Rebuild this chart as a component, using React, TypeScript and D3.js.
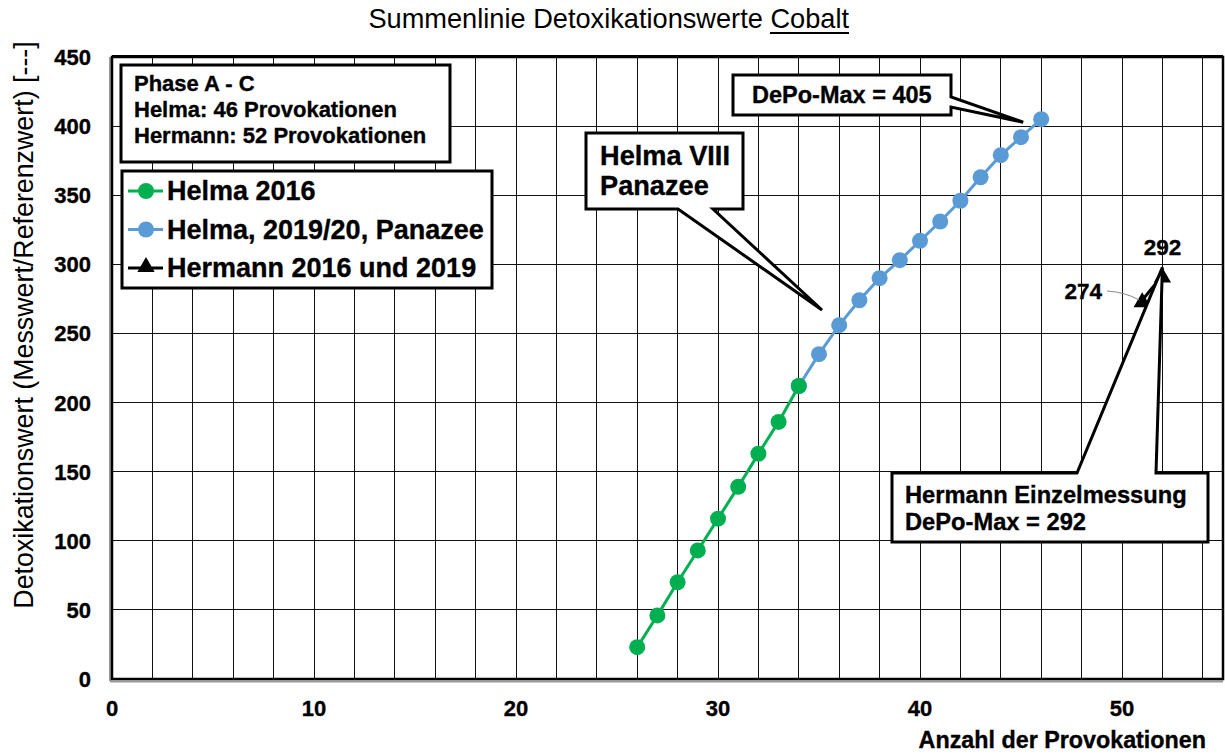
import React from "react";
import * as d3 from "d3";

const helma2016X = [26, 27, 28, 29, 30, 31, 32, 33, 34];
const helma2016Y = [23, 46, 70, 93, 116, 139, 163, 186, 212];
const helmaPanX = [34, 35, 36, 37, 38, 39, 40, 41, 42, 43, 44, 45, 46];
const helmaPanY = [212, 235, 256, 274, 290, 303, 317, 331, 346, 363, 379, 392, 405];
const hermannX = [51, 52];
const hermannY = [274, 292];
const xTicks = [0, 10, 20, 30, 40, 50];
const yTicks = [0, 50, 100, 150, 200, 250, 300, 350, 400, 450];
const legendLabels = ["Helma 2016", "Helma, 2019/20, Panazee", "Hermann 2016 und 2019"];
const infoLines = ["Phase A - C", "Helma: 46 Provokationen", "Hermann: 52 Provokationen"];

const W = 1225, H = 754;
const FONT = "'Liberation Sans', Arial, Helvetica, sans-serif";
const GREEN = "#00B050";
const BLUE = "#5B9BD5";

export default function App() {
  const L = 112, R = 1223, T = 57, B = 679;
  const x = d3.scaleLinear().domain([0, 55]).range([L, R]);
  const y = d3.scaleLinear().domain([0, 450]).range([B, T]);
  const vGrid = d3.range(2, 55, 2);
  const hGrid = d3.range(50, 450, 50);
  const line = d3.line<[number, number]>().x(d => x(d[0])).y(d => y(d[1]));
  const g16 = helma2016X.map((v, i) => [v, helma2016Y[i]] as [number, number]);
  const pan = helmaPanX.map((v, i) => [v, helmaPanY[i]] as [number, number]);
  const her = hermannX.map((v, i) => [v, hermannY[i]] as [number, number]);
  const tri = d3.symbol().type(d3.symbolTriangle).size(130)();

  // callout anchors
  const depoTip = [x(46) - 18, y(405) + 3];
  const helmaTip = [822, 310];
  const herTip = [x(52), y(292) - 8];
  const boldStroke = { stroke: "#000", strokeWidth: 0.35 } as any;

  return (
    <svg width={W} height={H} style={{ position: "absolute", left: 0, top: 0, background: "#fff" }} fontFamily={FONT}>
      <rect x={0} y={0} width={W} height={H} fill="#fff" />
      {/* title */}
      <text x={849} y={28} textAnchor="end" fontSize={27.2} fill="#000">
        Summenlinie Detoxikationswerte Cobalt
      </text>
      <line x1={770} x2={849} y1={33} y2={33} stroke="#000" strokeWidth={2} />
      {/* grid */}
      <g shapeRendering="crispEdges">
        {vGrid.map(v => (
          <line key={"v" + v} x1={x(v)} x2={x(v)} y1={T} y2={B} stroke="#111" strokeWidth={1} />
        ))}
        {hGrid.map(v => (
          <line key={"h" + v} x1={L} x2={R} y1={y(v)} y2={y(v)} stroke="#111" strokeWidth={1} />
        ))}
      </g>
      {/* frame */}
      <line x1={110} x2={110} y1={T} y2={B + 2} stroke="#999" strokeWidth={2} />
      <line x1={110} x2={R} y1={681.5} y2={681.5} stroke="#999" strokeWidth={2} />
      <rect x={L} y={T} width={R - L} height={B - T} fill="none" stroke="#000" strokeWidth={2.5} />
      <line x1={L} x2={R} y1={T - 0.5} y2={T - 0.5} stroke="#000" strokeWidth={3} />
      {/* y ticks */}
      {yTicks.map(v => (
        <text key={"yt" + v} x={91} y={y(v) + 8} textAnchor="end" fontSize={22} fontWeight="bold" {...boldStroke}>{v}</text>
      ))}
      {xTicks.map(v => (
        <text key={"xt" + v} x={x(v)} y={716} textAnchor="middle" fontSize={22} fontWeight="bold" {...boldStroke}>{v}</text>
      ))}
      {/* axis titles */}
      <text transform="translate(33,325) rotate(-90)" textAnchor="middle" fontSize={26.8}>
        Detoxikationswert (Messwert/Referenzwert) [---]
      </text>
      <text x={1206} y={748} textAnchor="end" fontSize={23.3} fontWeight="bold" {...boldStroke}>Anzahl der Provokationen</text>

      {/* series */}
      <path d={line(pan) || ""} fill="none" stroke={BLUE} strokeWidth={3} />
      {pan.map((d, i) => (
        <circle key={"p" + i} cx={x(d[0])} cy={y(d[1])} r={8} fill={BLUE} />
      ))}
      <path d={line(g16) || ""} fill="none" stroke={GREEN} strokeWidth={3} />
      {g16.map((d, i) => (
        <circle key={"g" + i} cx={x(d[0])} cy={y(d[1])} r={8} fill={GREEN} />
      ))}
      <path d={line(her) || ""} fill="none" stroke="#000" strokeWidth={3} />
      {her.map((d, i) => (
        <path key={"t" + i} d={tri || ""} transform={`translate(${x(d[0])},${y(d[1]) + 2})`} fill="#000" />
      ))}
      {/* hermann labels */}
      <text x={x(52)} y={255} textAnchor="middle" fontSize={22.5} fontWeight="bold" {...boldStroke}>{hermannY[1]}</text>
      <text x={1102} y={299} textAnchor="end" fontSize={22.5} fontWeight="bold" {...boldStroke}>{hermannY[0]}</text>
      <path d={`M1107,291 Q1125,292 ${x(51) - 3},300`} fill="none" stroke="#888" strokeWidth={1} />

      {/* info box */}
      <rect x={121} y={65} width={329} height={97} fill="#fff" stroke="#000" strokeWidth={3} />
      {infoLines.map((s, i) => (
        <text key={"i" + i} x={134} y={91 + i * 25.8} fontSize={22} fontWeight="bold" {...boldStroke}>{s}</text>
      ))}
      {/* legend */}
      <rect x={122} y={171} width={370} height={117} fill="#fff" stroke="#000" strokeWidth={3} />
      {legendLabels.map((s, i) => {
        const cy = 191 + i * 38.5;
        const col = i === 0 ? GREEN : i === 1 ? BLUE : "#000";
        return (
          <g key={"l" + i}>
            <line x1={128} x2={163} y1={cy} y2={cy} stroke={col} strokeWidth={3} />
            {i < 2 ? (
              <circle cx={146} cy={cy} r={8} fill={col} />
            ) : (
              <path d={tri || ""} transform={`translate(146,${cy - 1})`} fill="#000" />
            )}
            <text x={167} y={cy + 9} fontSize={27} fontWeight="bold" {...boldStroke}>{s}</text>
          </g>
        );
      })}

      {/* DePo-Max callout */}
      <path
        d={`M733,75 L951,75 L951,97 L${depoTip[0]},${depoTip[1]} L951,107 L951,115 L733,115 Z`}
        fill="#fff" stroke="#000" strokeWidth={3} strokeLinejoin="miter"
      />
      <text x={752} y={103} fontSize={23.5} fontWeight="bold" {...boldStroke}>DePo-Max = {helmaPanY[helmaPanY.length - 1]}</text>

      {/* Helma VIII callout */}
      <path
        d={`M586,133 L743,133 L743,209 L713,209 L${helmaTip[0]},${helmaTip[1]} L678,209 L586,209 Z`}
        fill="#fff" stroke="#000" strokeWidth={3}
      />
      <text x={600} y={165} fontSize={27.2} fontWeight="bold" {...boldStroke}>Helma VIII</text>
      <text x={600} y={195} fontSize={27.2} fontWeight="bold" {...boldStroke}>Panazee</text>

      {/* Hermann callout */}
      <path
        d={`M892,473 L1077,473 L${herTip[0]},${herTip[1]} L1156,473 L1208,473 L1208,542 L892,542 Z`}
        fill="#fff" stroke="#000" strokeWidth={3}
      />
      <text x={905} y={503} fontSize={23.7} fontWeight="bold" {...boldStroke}>Hermann Einzelmessung</text>
      <text x={905} y={530} fontSize={23.7} fontWeight="bold" {...boldStroke}>DePo-Max = {hermannY[1]}</text>
    </svg>
  );
}
